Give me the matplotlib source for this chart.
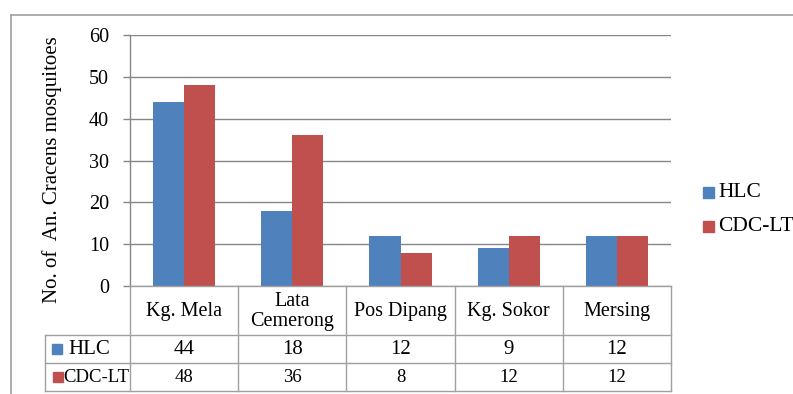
import numpy as np
import matplotlib
matplotlib.use("Agg")
from matplotlib import pyplot as plt
from matplotlib.lines import Line2D
from matplotlib.patches import Rectangle

plt.rcParams['font.family'] = ['Liberation Serif', 'DejaVu Serif']

sites = ["Kg. Mela", "Lata\nCemerong", "Pos Dipang", "Kg. Sokor", "Mersing"]
series_names = ["HLC", "CDC-LT"]
hlc = [44, 18, 12, 9, 12]
cdc_lt = [48, 36, 8, 12, 12]
y_ticks = [0, 10, 20, 30, 40, 50, 60]

blue = "#4F81BD"
red = "#C0504D"
grid_col = "#868686"
line_col = "#A0A0A0"

W, H = 793, 394
fig = plt.figure(figsize=(W / 100, H / 100), dpi=100)


def fx(px):
    return px / W


def fy(py):
    return 1 - py / H


# plot area in pixel coords of the reference
left, right, top, bottom = 130, 671, 35, 286
ax = fig.add_axes([fx(left), fy(bottom), fx(right - left), (bottom - top) / H])

x = np.arange(len(sites))
bw = 0.287
ax.bar(x - bw / 2, hlc, bw, color=blue, zorder=3)
ax.bar(x + bw / 2, cdc_lt, bw, color=red, zorder=3)
ax.set_xlim(-0.5, len(sites) - 0.5)
ax.set_ylim(0, 60)
ax.set_yticks(y_ticks)
ax.set_xticks([])
ax.yaxis.grid(True, color=grid_col, linewidth=1.0, zorder=0)
ax.tick_params(axis="y", length=5, width=1.0, color=grid_col, pad=10, labelsize=14.5)
for s in ["top", "right", "bottom"]:
    ax.spines[s].set_visible(False)
ax.spines["left"].set_color(grid_col)
ax.spines["left"].set_linewidth(1.0)

fig.text(fx(52), fy(170), "No. of  An. Cracens mosquitoes", rotation=90,
         ha="center", va="center", fontsize=15)

# overlay canvas in pixel coordinates for the frame, data table and legend
cv = fig.add_axes([0, 0, 1, 1], facecolor="none")
cv.set_xlim(0, W)
cv.set_ylim(H, 0)
cv.axis("off")

# outer chart frame
cv.add_line(Line2D([11, W], [15, 15], color=line_col, lw=1.2))
cv.add_line(Line2D([11, 11], [15, H], color=line_col, lw=1.2))

# data table
col_edges = [left + (right - left) * i / len(sites) for i in range(len(sites) + 1)]
tbl_left = 45
row_edges = [286, 335, 363, 391]
cv.add_line(Line2D([left, right], [row_edges[0]] * 2, color=line_col, lw=1))
for r in row_edges[1:]:
    cv.add_line(Line2D([tbl_left, right], [r, r], color=line_col, lw=1))
for c in col_edges:
    cv.add_line(Line2D([c, c], [row_edges[0], row_edges[-1]], color=line_col, lw=1))
cv.add_line(Line2D([tbl_left, tbl_left], [row_edges[1], row_edges[-1]], color=line_col, lw=1))

hdr_y = (row_edges[0] + row_edges[1]) / 2 + 1
for i, name in enumerate(sites):
    cx = (col_edges[i] + col_edges[i + 1]) / 2
    ls = 1.05 if "\n" in name else 1.2
    cv.text(cx, hdr_y, name, ha="center", va="center", fontsize=14.5, linespacing=ls)

rows = [(series_names[0], hlc, blue, 15), (series_names[1], cdc_lt, red, 13.5)]
for k, (name, vals, col, fs) in enumerate(rows):
    ry = (row_edges[k + 1] + row_edges[k + 2]) / 2
    cv.add_patch(Rectangle((52 + k, ry - 5), 10, 10, color=col))
    cv.text(68 if k == 0 else 63, ry, name, ha="left", va="center", fontsize=fs)
    for i, v in enumerate(vals):
        cx = (col_edges[i] + col_edges[i + 1]) / 2
        cv.text(cx, ry, str(v), ha="center", va="center", fontsize=fs)

# legend
for k, (name, col) in enumerate(zip(series_names, [blue, red])):
    ly = 192 + 34 * k
    cv.add_patch(Rectangle((703, ly - 5), 11, 11, color=col))
    cv.text(718, ly, name, ha="left", va="center", fontsize=15.5)

fig.savefig("out.png", dpi=100)
